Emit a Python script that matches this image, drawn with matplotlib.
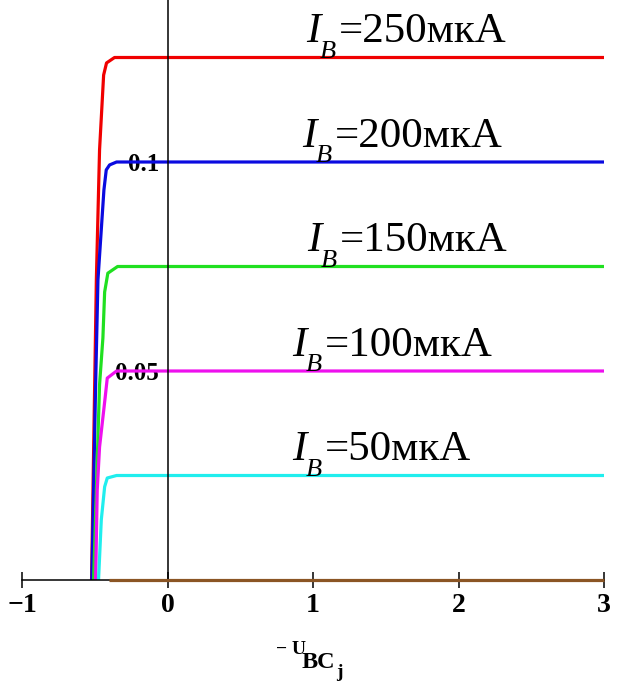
import matplotlib
matplotlib.use('Agg')
import matplotlib.pyplot as plt

plt.rcParams['font.family'] = ['Liberation Serif', 'DejaVu Serif']

# base currents, uA
IB = [250, 200, 150, 100, 50, 0]
# x = -U_BC, y = collector current
x_250 = [-0.522, -0.489, -0.467, -0.439, -0.419, -0.364, 3.0]
y_250 = [0.0, 0.0718, 0.1029, 0.1208, 0.1237, 0.125, 0.125]
x_200 = [-0.520, -0.494, -0.478, -0.437, -0.421, -0.398, -0.350, 3.0]
y_200 = [0.0, 0.0467, 0.0718, 0.0933, 0.0981, 0.0993, 0.100, 0.100]
x_150 = [-0.508, -0.467, -0.444, -0.432, -0.410, -0.343, 3.0]
y_150 = [0.0, 0.0467, 0.0579, 0.0689, 0.0734, 0.075, 0.075]
x_100 = [-0.494, -0.483, -0.467, -0.428, -0.414, -0.350, 3.0]
y_100 = [0.0, 0.0215, 0.0318, 0.0438, 0.0483, 0.050, 0.050]
x_50 = [-0.474, -0.455, -0.432, -0.414, -0.350, 3.0]
y_50 = [0.0, 0.0144, 0.0223, 0.0244, 0.025, 0.025]
x_0 = [-0.40, 3.0]
y_0 = [0.0, 0.0]

XS = [x_250, x_200, x_150, x_100, x_50, x_0]
YS = [y_250, y_200, y_150, y_100, y_50, y_0]
COLORS = ['#f00000', '#0a0ae0', '#20e020', '#ee10ee', '#20eeee', '#8b5524']

# label anchor (left edge of I) and level of each labelled curve
LABEL_X = [0.954, 0.927, 0.961, 0.858, 0.858]
LABEL_Y = [0.125, 0.100, 0.075, 0.050, 0.025]

XTICKS = [-1, 0, 1, 2, 3]
XTICKLABELS = ['\u22121', '0', '1', '2', '3']
YTICKS = [0.05, 0.1]
YTICKLABELS = ['0.05', '0.1']

fig = plt.figure(figsize=(6.19, 6.82), dpi=100)
ax = fig.add_axes([22/619, 102/682, 582/619, 580/682])
ax.set_xlim(-1, 3)
ax.set_ylim(0, 580/4180)

for xs, ys, c in zip(XS, YS, COLORS):
    z = 3 if c == COLORS[-1] else 2
    ax.plot(xs, ys, color=c, lw=2.3, solid_joinstyle='round',
            solid_capstyle='butt', zorder=z, clip_on=False)

# I_B labels: italic I, lowered italic B, then the value
for lx, ly, ib in zip(LABEL_X, LABEL_Y, IB):
    base = (lx, ly + 0.0036)
    ax.annotate('I', xy=base, xytext=(0, 0), textcoords='offset points',
                fontsize=31, style='italic', ha='left', va='baseline', zorder=5)
    ax.annotate('B', xy=base, xytext=(9.5, -11), textcoords='offset points',
                fontsize=19, style='italic', ha='left', va='baseline', zorder=5)
    ax.annotate('=%dмкА' % ib, xy=base, xytext=(23.5, 0), textcoords='offset points',
                fontsize=31, ha='left', va='baseline', zorder=5)

for s in ['top', 'right']:
    ax.spines[s].set_visible(False)
ax.spines['left'].set_position(('data', 0))
ax.spines['left'].set_linewidth(1.1)
ax.spines['bottom'].set_linewidth(1.1)

ax.set_xticks(XTICKS)
ax.set_xticklabels(XTICKLABELS, fontsize=20, fontweight='bold')
ax.tick_params(axis='x', direction='inout', length=11, width=1.1, pad=4)
ax.set_yticks(YTICKS)
ax.set_yticklabels(YTICKLABELS, fontsize=18, fontweight='bold')
ax.tick_params(axis='y', length=0, pad=6)

# axis label  -U_{BC_j}
fig.text(276/619, (682-654)/682, '\u2212 U', fontsize=14, fontweight='bold')
fig.text(302/619, (682-668)/682, 'BC', fontsize=17.5, fontweight='bold')
fig.text(336/619, (682-677)/682, 'j', fontsize=14, fontweight='bold')

fig.savefig('out.png', dpi=100)
